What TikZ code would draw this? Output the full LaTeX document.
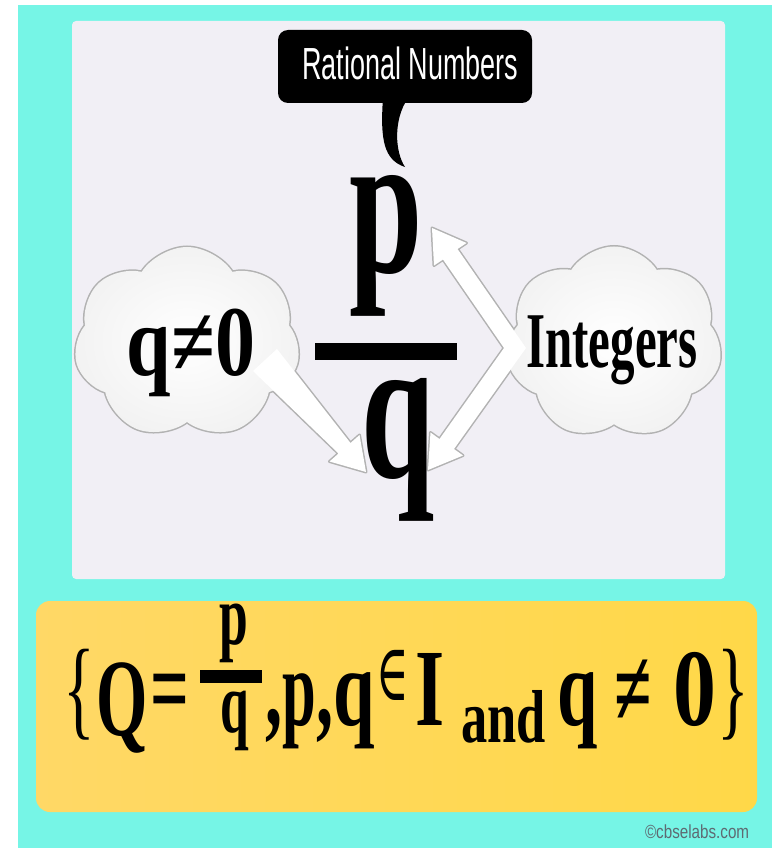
\documentclass[tikz,border=0pt]{standalone}
\usepackage{fontspec}
\usepackage{graphicx}
\setmainfont{Liberation Serif}
\newfontfamily\sansf{Liberation Sans}
\newfontfamily\dvs{DejaVu Serif}
\usetikzlibrary{shapes.symbols}
\definecolor{cyanbg}{HTML}{76F5E6}
\definecolor{panelgray}{HTML}{F1EFF5}
\definecolor{yellA}{HTML}{FFD866}
\definecolor{yellB}{HTML}{FFDE8A}
\definecolor{yellC}{HTML}{FFD848}
\definecolor{wmark}{HTML}{5E6A72}
\newcommand{\ntext}[3]{\scalebox{#1}[1]{\fontsize{#2}{#2}\selectfont #3}}
\tikzset{
  txt/.style={inner sep=0pt, outer sep=0pt},
  fm/.style={txt, anchor=base west},
  cloudshape/.style={cloud, cloud puffs=7, cloud puff arc=115, inner sep=0pt},
  cloudline/.style={cloudshape, draw=gray!60, line width=3pt},
  cloudfill/.style={cloudshape, inner color=white, outer color=gray!10},
  arrowline/.style={draw=gray!60, line width=3pt, line join=round},
  arrowfill/.style={fill=white},
}
\begin{document}
\begin{tikzpicture}[x=1pt, y=-1pt]
\useasboundingbox (0,0) rectangle (772,848);
\fill[white] (0,0) rectangle (772,848);
\fill[cyanbg] (18,5) rectangle (772,848);
% panels
\node[txt, fill=panelgray, rounded corners=4pt, minimum width=653pt, minimum height=558pt] (panel) at (398.5,300) {};
\node[txt, left color=yellA, middle color=yellB, right color=yellC, rounded corners=14pt, minimum width=721pt, minimum height=211pt] (ypanel) at (396.5,706.5) {};
% callout
\node[txt, fill=black, rounded corners=10pt, minimum width=254pt, minimum height=73pt] (rn) at (405,66.5) {};
\fill[black] (383,98) .. controls (380,140) and (384,160) .. (405,167) .. controls (395,152) and (393,120) .. (408,98) -- cycle;
\node[txt, anchor=base, text=white] (rntext) at (410.5,80) {\ntext{0.6}{45}{\sansf Rational Numbers}};
% cloud and arrow outlines
\node[cloudline, minimum width=226pt, minimum height=192pt] (cloudLo) at (187,343) {};
\node[cloudline, minimum width=216pt, minimum height=193pt] (cloudRo) at (614,343) {};
\draw[arrowline] (277,349) -- (350.5,443) -- (359.5,435) -- (366,472) -- (329.5,461.5) -- (338.5,453.5) -- (253,371) -- cycle;
\draw[arrowline] (504,348) -- (443,259.5) -- (434,265.5) -- (432,228) -- (466.5,243) -- (457.5,249) -- (526,348) -- (454,449) -- (463,455.5) -- (428,470) -- (430.5,432.5) -- (439.5,439) -- cycle;
% fills
\node[cloudfill, minimum width=226pt, minimum height=192pt] (cloudL) at (187,343) {};
\node[cloudfill, minimum width=216pt, minimum height=193pt] (cloudR) at (614,343) {};
\fill[arrowfill] (277,349) -- (350.5,443) -- (359.5,435) -- (366,472) -- (329.5,461.5) -- (338.5,453.5) -- (253,371) -- cycle;
\fill[arrowfill] (504,348) -- (443,259.5) -- (434,265.5) -- (432,228) -- (466.5,243) -- (457.5,249) -- (526,348) -- (454,449) -- (463,455.5) -- (428,470) -- (430.5,432.5) -- (439.5,439) -- cycle;
% cloud texts
\node[txt, anchor=base] (qne) at (191,375) {\ntext{0.8}{100}{\bfseries q≠0}};
\node[txt, anchor=base] (ints) at (612,367) {\ntext{0.62}{79}{\bfseries Integers}};
% big fraction
\node[txt, anchor=base] (bigp) at (386,272) {\ntext{0.64}{206}{\bfseries p}};
\node[txt, fill=black, minimum width=142pt, minimum height=17pt] (bigbar) at (386,351.5) {};
\node[txt, anchor=base] (bigq) at (398,477) {\ntext{0.64}{206}{\bfseries q}};
% formula
\node[fm] (f1) at (63,725) {\ntext{0.6}{110}{\{}};
\node[fm] (f2) at (96,735) {\ntext{0.6}{110}{\bfseries Q}};
\node[fm] (f3) at (150,725) {\ntext{0.62}{110}{\bfseries =}};
\node[txt, anchor=base] (fp) at (234,644) {\ntext{0.6}{86}{\bfseries p}};
\node[txt, fill=black, minimum width=62pt, minimum height=13pt] (fbar) at (231,676.5) {};
\node[txt, anchor=base] (fq) at (235,732) {\ntext{0.6}{86}{\bfseries q}};
\node[fm] (f4) at (265,725) {\ntext{0.62}{110}{\bfseries ,}};
\node[fm] (f5) at (282,725) {\ntext{0.55}{110}{\bfseries p}};
\node[fm] (f6) at (316,725) {\ntext{0.62}{110}{\bfseries ,}};
\node[fm] (f7) at (333,725) {\ntext{0.68}{110}{\bfseries q}};
\node[fm] (f8) at (376,700) {\ntext{0.55}{80}{\dvs ∈}};
\node[fm] (f9) at (415,725) {\ntext{0.68}{110}{\bfseries I}};
\node[fm] (f10) at (461,742) {\ntext{0.7}{75}{\bfseries and}};
\node[fm] (f11) at (557,725) {\ntext{0.66}{110}{\bfseries q}};
\node[fm] (f12) at (614,725) {\ntext{0.62}{110}{\bfseries ≠}};
\node[fm] (f13) at (673,725) {\ntext{0.78}{110}{\bfseries 0}};
\node[fm] (f14) at (717,725) {\ntext{0.6}{110}{\}}};
% watermark
\node[fm, text=wmark] (wm) at (645,838) {\ntext{0.8}{19}{\sansf ©cbselabs.com}};
\end{tikzpicture}
\end{document}
